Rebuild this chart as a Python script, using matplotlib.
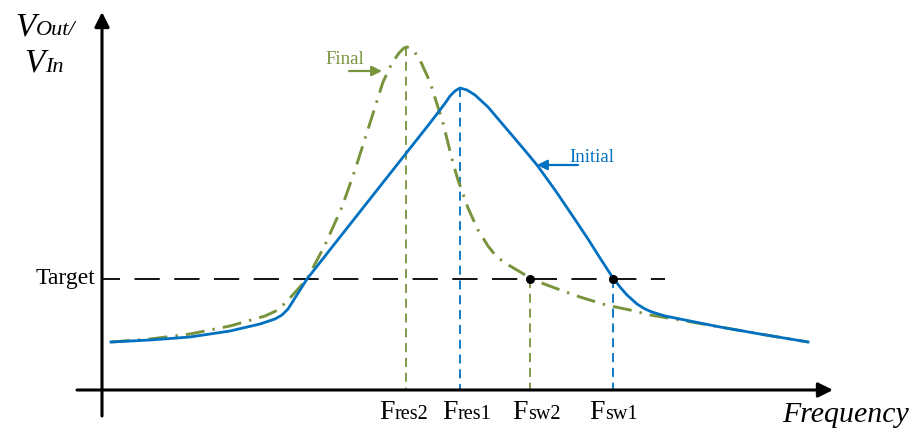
import matplotlib
matplotlib.use("Agg")
import matplotlib.pyplot as plt

# Coordenadas (unidades de pixel da imagem, eixo y para baixo)
initial_x = [111, 150, 190, 230, 260, 275, 282, 288, 295, 307, 340, 370, 400, 430,
             440, 446, 450, 455, 460, 467, 475, 488, 505, 522, 537, 555, 572,
             588, 600, 613, 620, 627, 637, 645, 652, 665, 680, 720, 760, 808]
initial_y = [342, 340, 337, 331, 324, 319, 315, 309, 298, 279, 237, 199, 161, 123,
             110, 102, 96, 91, 88, 90, 95, 107, 127, 147, 165, 190, 215,
             239, 258, 278, 287, 295, 304, 309, 312, 316, 319, 327, 334, 342]

final_x = [111, 150, 190, 230, 265, 278, 290, 307, 325, 342, 355, 370, 383, 392,
           399, 404, 407, 410, 414, 420, 430, 443, 453, 458, 468, 478, 488, 496,
           505, 522, 531, 555, 580, 606, 630, 650, 680, 720, 760, 808]
final_y = [342, 339, 334, 326, 316, 310, 298, 279, 245, 207, 170, 123, 82, 63,
           53, 48, 47, 48, 51, 60, 82, 123, 163, 180, 208, 230, 246, 256,
           263, 273, 279, 288, 297, 305, 310, 315, 320, 327, 334, 342]

target = 279
freq_x = [406, 460, 530, 613]
freq_top = [47, 88, 279, 279]
freq_names = ["res2", "res1", "sw2", "sw1"]
freq_colors = ["#77933C", "#0070C0", "#77933C", "#0070C0"]

# posição da divisão F | subscrito de cada rótulo
label_split = [395, 458, 528, 605]

BLUE = "#0070C0"
GREEN = "#77933C"
SERIF = "Liberation Serif"
AXIS_Y = 390
AXIS_X = 102


def main():
    fig = plt.figure(figsize=(9.13, 4.34), dpi=100)
    ax = fig.add_axes([0, 0, 1, 1])
    ax.set_xlim(0, 913)
    ax.set_ylim(434, 0)
    ax.axis("off")

    # eixos com setas
    ax.annotate("", xy=(833, AXIS_Y), xytext=(77, AXIS_Y),
                arrowprops=dict(arrowstyle="-|>", lw=2.2, color="k",
                                mutation_scale=22, shrinkA=0, shrinkB=0))
    ax.annotate("", xy=(AXIS_X, 12), xytext=(AXIS_X, 416),
                arrowprops=dict(arrowstyle="-|>", lw=2.2, color="k",
                                mutation_scale=22, shrinkA=0, shrinkB=0))

    # linha de alvo
    ax.plot([AXIS_X, 665], [target, target], color="k", lw=1.3,
            linestyle=(4, (14, 8)))

    # linhas verticais das frequências
    for x, top, c in zip(freq_x, freq_top, freq_colors):
        ax.plot([x, x], [top, AXIS_Y], color=c, lw=1.3, linestyle=(0, (5, 3.2)))

    ax.plot(final_x, final_y, color=GREEN, lw=2.1, linestyle=(0, (6.5, 2.8, 0.8, 2.8)),
            solid_capstyle="butt", dash_capstyle="butt")
    ax.plot(initial_x, initial_y, color=BLUE, lw=2.0, solid_joinstyle="round")

    ax.plot([freq_x[2], freq_x[3]], [target, target], "o", color="k", markersize=5.5)

    # rótulos das frequências
    for xs, name in zip(label_split, freq_names):
        ax.text(xs, 419, "F", ha="right", va="baseline", fontsize=20,
                family=SERIF)
        ax.text(xs, 419, name, ha="left", va="baseline", fontsize=14.5,
                family=SERIF)

    ax.text(95, 284, "Target", ha="right", va="baseline", fontsize=17,
            family=SERIF)
    ax.text(909, 422, "Frequency", ha="right", va="baseline", fontsize=21.5,
            family=SERIF, style="italic")

    # rótulo do eixo y
    ax.text(36, 35, "V", ha="right", va="baseline", fontsize=24, family=SERIF,
            style="italic")
    ax.text(36, 35, "Out/", ha="left", va="baseline", fontsize=16, family=SERIF,
            style="italic")
    ax.text(45, 72, "V", ha="right", va="baseline", fontsize=24, family=SERIF,
            style="italic")
    ax.text(45, 72, "In", ha="left", va="baseline", fontsize=16, family=SERIF,
            style="italic")

    # legendas com seta
    ax.text(345, 64, "Final", ha="center", va="baseline", fontsize=13.5,
            family=SERIF, color=GREEN)
    ax.annotate("", xy=(382, 71), xytext=(349, 71),
                arrowprops=dict(arrowstyle="-|>", lw=1.6, color=GREEN,
                                mutation_scale=15, shrinkA=0, shrinkB=0))
    ax.text(592, 162, "Initial", ha="center", va="baseline", fontsize=13.5,
            family=SERIF, color=BLUE)
    ax.annotate("", xy=(537, 165), xytext=(578, 165),
                arrowprops=dict(arrowstyle="-|>", lw=1.6, color=BLUE,
                                mutation_scale=15, shrinkA=0, shrinkB=0))

    fig.savefig("out.png", dpi=100)


if __name__ == "__main__":
    main()
